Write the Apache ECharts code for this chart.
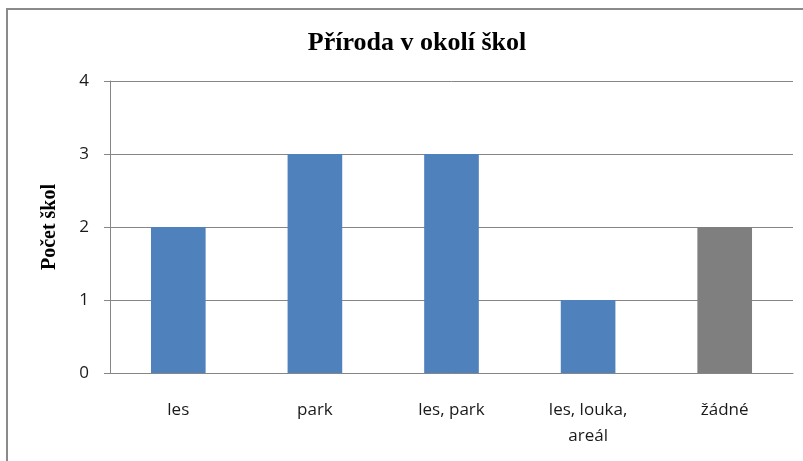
<!DOCTYPE html>
<html>
<head>
<meta charset="utf-8">
<script src="https://cdn.jsdelivr.net/npm/echarts@6/dist/echarts.min.js"></script>
<style>
  html, body { margin: 0; padding: 0; background: #fff; }
  #frame {
    position: absolute; left: 6px; top: 8px; width: 820px; height: 470px;
    border-top: 2px solid #8a8a8a; border-left: 2px solid #8a8a8a;
  }
  #chart { position: absolute; left: 0; top: 0; width: 803px; height: 461px; }
</style>
</head>
<body>
<div id="frame"></div>
<div id="chart"></div>
<script>
    // data
    var categories = ['les', 'park', 'les, park', 'les, louka,\nareál', 'žádné'];
    var counts = [2, 3, 3, 1, 2];
    var barColors = ['#4f81bd', '#4f81bd', '#4f81bd', '#4f81bd', '#7f7f7f'];
    var yTicks = [0, 1, 2, 3, 4];

    var chart = echarts.init(document.getElementById('chart'));
    var seriesData = [];
    for (var i = 0; i < counts.length; i++) {
        seriesData.push({ value: counts[i], itemStyle: { color: barColors[i] } });
    }
    var option = {
        backgroundColor: 'transparent',
        animation: false,
        title: {
            text: 'Příroda v okolí škol',
            left: 412,
            top: 25,
            textAlign: 'center',
            textStyle: {
                fontFamily: 'Liberation Serif',
                fontWeight: 'bold',
                fontSize: 26,
                color: '#000'
            }
        },
        grid: { left: 110, right: 10, top: 81, bottom: 88 },
        xAxis: {
            type: 'category',
            data: categories,
            axisLine: { lineStyle: { color: '#868686' } },
            axisTick: { show: false },
            axisLabel: {
                margin: 24,
                interval: 0,
                fontFamily: 'Open Sans',
                fontSize: 17,
                lineHeight: 26,
                color: '#1a1a1a'
            }
        },
        yAxis: {
            type: 'value',
            min: yTicks[0],
            max: yTicks[yTicks.length - 1],
            interval: 1,
            name: 'Počet škol',
            nameLocation: 'middle',
            nameGap: 50,
            nameTextStyle: {
                fontFamily: 'Liberation Serif',
                fontWeight: 'bold',
                fontSize: 20,
                color: '#000'
            },
            axisLine: { show: true, lineStyle: { color: '#868686' } },
            axisTick: { show: true, length: 6, lineStyle: { color: '#868686' } },
            splitLine: { lineStyle: { color: '#868686' } },
            axisLabel: {
                margin: 21,
                fontFamily: 'Open Sans',
                fontSize: 17,
                color: '#1a1a1a'
            }
        },
        series: [{
            type: 'bar',
            data: seriesData,
            barWidth: '40%'
        }]
    };
    chart.setOption(option);
</script>
</body>
</html>
